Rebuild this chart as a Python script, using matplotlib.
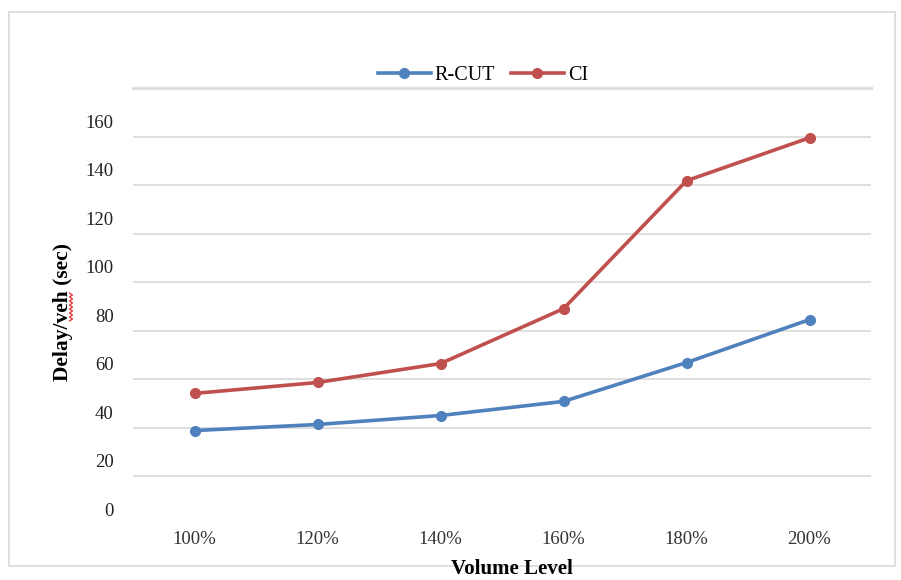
import numpy as np
import matplotlib
matplotlib.use("Agg")
import matplotlib.pyplot as plt
import matplotlib.transforms as mtransforms
from matplotlib.lines import Line2D
from matplotlib.patches import Rectangle

plt.rcParams['font.family'] = ['Liberation Serif', 'DejaVu Serif']

levels = ['100%', '120%', '140%', '160%', '180%', '200%']
rcut = [18.9, 21.4, 25.1, 30.9, 46.9, 64.6]
ci = [34.2, 38.7, 46.5, 69.1, 121.8, 139.5]
yticks = [0, 20, 40, 60, 80, 100, 120, 140, 160]

blue = '#4F81BD'
red = '#C0504D'

fig = plt.figure(figsize=(9.01, 5.80), dpi=100)
ax = fig.add_axes([133 / 901, 1 - 525 / 580, 738 / 901, 437 / 580])

x = np.arange(len(levels))
ax.plot(x, rcut, color=blue, lw=2.6, marker='o', ms=7, label='R-CUT')
ax.plot(x, ci, color=red, lw=2.6, marker='o', ms=7, label='CI')

ax.set_xlim(-0.5, len(levels) - 0.5)
ax.set_ylim(-20, 160)
ax.set_xticks(x)
ax.set_xticklabels(levels, fontsize=13.5, color='#333333')
ax.set_yticks(yticks)
ax.set_yticklabels([str(v) for v in yticks], fontsize=13.5, color='#222222')
ax.tick_params(axis='both', length=0)
ax.tick_params(axis='y', pad=14)
ax.tick_params(axis='x', pad=4)
ax.grid(axis='y', color='#D9D9D9', lw=1.2)
ax.set_axisbelow(True)
for s in ax.spines.values():
    s.set_visible(False)
# top line is a bit heavier in the original
ax.axhline(160, color='#E3E3E3', lw=2.5, zorder=0, clip_on=False)

# the y labels sit a bit below their gridlines in the original
off = mtransforms.ScaledTranslation(0, -33 / 100, fig.dpi_scale_trans)
for lab in ax.get_yticklabels():
    lab.set_transform(lab.get_transform() + off)

leg = ax.legend(loc='center', bbox_to_anchor=(483 / 901, 1 - 75 / 580),
                bbox_transform=fig.transFigure, ncol=2, frameon=False,
                fontsize=14.5, handlelength=2.6, columnspacing=0.8,
                handletextpad=0.2)

fig.text(63 / 901, 1 - 312 / 580, 'Delay/veh (sec)', rotation=90, ha='center',
         va='center', fontsize=15.5, fontweight='bold')
fig.text(512 / 901, 1 / 580, 'Volume Level', ha='center', va='bottom',
         fontsize=15, fontweight='bold')

# spell-check squiggle under "veh"
sy = np.linspace(1 - 293 / 580, 1 - 321 / 580, 15)
sx = 71 / 901 + np.tile([-1.5, 1.5], 8)[:15] / 901
fig.add_artist(Line2D(sx, sy, color='#E03030', lw=0.9, transform=fig.transFigure))

fig.add_artist(Rectangle((9 / 901, 1 - 566 / 580), 886 / 901, 554 / 580,
                         transform=fig.transFigure, fill=False,
                         edgecolor='#D9D9D9', lw=1.2))

fig.savefig('out.png', dpi=100)
